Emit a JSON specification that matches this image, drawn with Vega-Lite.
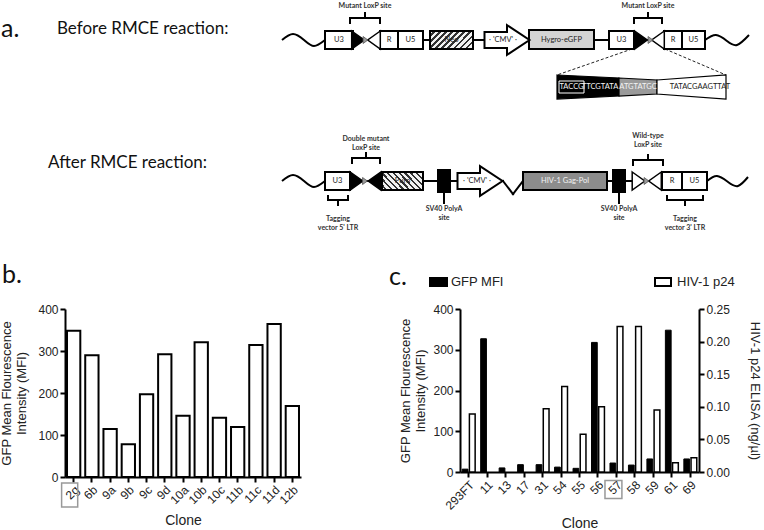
{
  "$schema": "https://vega.github.io/schema/vega-lite/v6.json",
  "background": "white",
  "padding": 0,
  "columns": 1,
  "align": "none",
  "spacing": 7,
  "config": {
    "view": {"stroke": null},
    "axis": {"domainColor": "black", "domainWidth": 2, "tickColor": "black", "tickWidth": 2, "tickSize": 5, "labelColor": "#222", "labelFont": "Liberation Sans", "labelFontSize": 12, "titleFont": "Liberation Sans", "titleFontWeight": "normal", "titleColor": "#222", "grid": false, "labelPadding": 2}
  },
  "datasets": {
    "segs": [
      {"x": 325, "y": 40, "x2": 705, "y2": 40},
      {"x": 325, "y": 181, "x2": 503, "y2": 181},
      {"x": 523, "y": 181, "x2": 707, "y2": 181},
      {"x": 503, "y": 181, "x2": 513, "y2": 194},
      {"x": 513, "y": 194, "x2": 523, "y2": 181},
      {"x": 350, "y": 18, "x2": 380, "y2": 18},
      {"x": 350, "y": 18, "x2": 350, "y2": 23},
      {"x": 380, "y": 18, "x2": 380, "y2": 23},
      {"x": 365, "y": 18, "x2": 365, "y2": 13},
      {"x": 634, "y": 18, "x2": 662, "y2": 18},
      {"x": 634, "y": 18, "x2": 634, "y2": 23},
      {"x": 662, "y": 18, "x2": 662, "y2": 23},
      {"x": 648, "y": 18, "x2": 648, "y2": 13},
      {"x": 352, "y": 158, "x2": 380, "y2": 158},
      {"x": 352, "y": 158, "x2": 352, "y2": 163},
      {"x": 380, "y": 158, "x2": 380, "y2": 163},
      {"x": 366, "y": 158, "x2": 366, "y2": 153},
      {"x": 633, "y": 160, "x2": 663, "y2": 160},
      {"x": 633, "y": 160, "x2": 633, "y2": 165},
      {"x": 663, "y": 160, "x2": 663, "y2": 165},
      {"x": 648, "y": 160, "x2": 648, "y2": 155},
      {"x": 328, "y": 200, "x2": 348, "y2": 200},
      {"x": 328, "y": 200, "x2": 328, "y2": 196},
      {"x": 348, "y": 200, "x2": 348, "y2": 196},
      {"x": 338, "y": 200, "x2": 338, "y2": 205},
      {"x": 667, "y": 200, "x2": 703, "y2": 200},
      {"x": 667, "y": 200, "x2": 667, "y2": 196},
      {"x": 703, "y": 200, "x2": 703, "y2": 196},
      {"x": 685, "y": 200, "x2": 685, "y2": 205},
      {"x": 444, "y": 190, "x2": 444, "y2": 203},
      {"x": 619, "y": 190, "x2": 619, "y2": 203}
    ],
    "dash": [
      {"x": 632, "y": 49, "x2": 557, "y2": 75},
      {"x": 665, "y": 49, "x2": 726, "y2": 75}
    ],
    "waves": [
      {"w": 1, "x": 282, "y": 40}, {"w": 1, "x": 293, "y": 34}, {"w": 1, "x": 304, "y": 40}, {"w": 1, "x": 314, "y": 46}, {"w": 1, "x": 325, "y": 40},
      {"w": 2, "x": 705, "y": 40}, {"w": 2, "x": 716, "y": 35}, {"w": 2, "x": 727, "y": 41}, {"w": 2, "x": 737, "y": 45}, {"w": 2, "x": 749, "y": 35},
      {"w": 3, "x": 282, "y": 181}, {"w": 3, "x": 293, "y": 175}, {"w": 3, "x": 304, "y": 181}, {"w": 3, "x": 314, "y": 187}, {"w": 3, "x": 325, "y": 181},
      {"w": 4, "x": 707, "y": 181}, {"w": 4, "x": 717, "y": 176}, {"w": 4, "x": 728, "y": 182}, {"w": 4, "x": 738, "y": 186}, {"w": 4, "x": 748, "y": 177}
    ],
    "boxes": [
      {"kind": "white", "x": 325, "x2": 353, "y": 31, "y2": 49},
      {"kind": "white", "x": 380, "x2": 398, "y": 31, "y2": 49},
      {"kind": "white", "x": 398, "x2": 423, "y": 31, "y2": 49},
      {"kind": "light", "x": 529, "x2": 594, "y": 30, "y2": 49},
      {"kind": "white", "x": 609, "x2": 634, "y": 31, "y2": 49},
      {"kind": "white", "x": 664, "x2": 682, "y": 31, "y2": 49},
      {"kind": "white", "x": 682, "x2": 705, "y": 31, "y2": 49},
      {"kind": "white", "x": 325, "x2": 350, "y": 172, "y2": 190},
      {"kind": "black", "x": 438, "x2": 450, "y": 170, "y2": 192},
      {"kind": "dark", "x": 523, "x2": 607, "y": 172, "y2": 190},
      {"kind": "black", "x": 613, "x2": 625, "y": 170, "y2": 192},
      {"kind": "white", "x": 662, "x2": 682, "y": 172, "y2": 190},
      {"kind": "white", "x": 682, "x2": 707, "y": 172, "y2": 190},
      {"kind": "black", "x": 430, "x2": 447, "y": 278, "y2": 286},
      {"kind": "white", "x": 655, "x2": 671, "y": 278, "y2": 286}
    ],
    "hatch": [
      {"dir": "up", "x": 430, "x2": 473, "y": 31, "y2": 49},
      {"dir": "down", "x": 382, "x2": 423, "y": 172, "y2": 190}
    ],
    "seq": [
      {"part": "black", "x": 557, "y": 75, "y2": 99}, {"part": "black", "x": 619, "y": 78, "y2": 96},
      {"part": "gray", "x": 619, "y": 78, "y2": 96}, {"part": "gray", "x": 657, "y": 80, "y2": 94},
      {"part": "white", "x": 657, "y": 80, "y2": 94}, {"part": "white", "x": 726, "y": 75, "y2": 99}
    ],
    "outline": [{"x": 559, "x2": 584, "y": 81, "y2": 93}],
    "tris": [
      {"dir": "right", "kind": "black", "x": 358, "y": 40},
      {"dir": "right", "kind": "black", "x": 641, "y": 40},
      {"dir": "right", "kind": "black", "x": 356.5, "y": 181},
      {"dir": "right", "kind": "white", "x": 638.5, "y": 181},
      {"dir": "left", "kind": "white", "x": 374, "y": 40},
      {"dir": "left", "kind": "white", "x": 658, "y": 40},
      {"dir": "left", "kind": "black", "x": 374.5, "y": 181},
      {"dir": "left", "kind": "white", "x": 655, "y": 181},
      {"dir": "small", "kind": "gray", "x": 365.5, "y": 40},
      {"dir": "small", "kind": "gray", "x": 650.5, "y": 40},
      {"dir": "small", "kind": "gray", "x": 365, "y": 181},
      {"dir": "small", "kind": "gray", "x": 646.5, "y": 181}
    ],
    "arrows": [{"x": 507, "y": 40}, {"x": 480, "y": 181}],
    "texts": [
      {"role": "heading", "label": "Before RMCE reaction:", "x": 57, "y": 29},
      {"role": "heading", "label": "After RMCE reaction:", "x": 48, "y": 163},
      {"role": "letter", "label": "a.", "x": 1, "y": 37},
      {"role": "letter", "label": "b.", "x": 2, "y": 283},
      {"role": "letter", "label": "c.", "x": 389, "y": 285},
      {"role": "small", "label": "Mutant LoxP site", "x": 365, "y": 6},
      {"role": "small", "label": "Mutant LoxP site", "x": 648, "y": 6},
      {"role": "small", "label": "Double mutant", "x": 366, "y": 139},
      {"role": "small", "label": "LoxP site", "x": 366, "y": 148},
      {"role": "small", "label": "Wild-type", "x": 648, "y": 136},
      {"role": "small", "label": "LoxP site", "x": 648, "y": 145},
      {"role": "small", "label": "SV40 PolyA", "x": 444, "y": 209},
      {"role": "small", "label": "site", "x": 444, "y": 218},
      {"role": "small", "label": "SV40 PolyA", "x": 619, "y": 209},
      {"role": "small", "label": "site", "x": 619, "y": 218},
      {"role": "small", "label": "Tagging", "x": 338, "y": 219},
      {"role": "small", "label": "vector 5' LTR", "x": 338, "y": 228},
      {"role": "small", "label": "Tagging", "x": 685, "y": 219},
      {"role": "small", "label": "vector 3' LTR", "x": 685, "y": 228},
      {"role": "box", "label": "U3", "x": 339, "y": 40},
      {"role": "box", "label": "R", "x": 389, "y": 40},
      {"role": "box", "label": "U5", "x": 410.5, "y": 40},
      {"role": "box", "label": "Neo", "x": 451.5, "y": 40},
      {"role": "box", "label": "· 'CMV' ·", "x": 503, "y": 40},
      {"role": "box", "label": "Hygro-eGFP", "x": 561.5, "y": 40},
      {"role": "box", "label": "U3", "x": 621.5, "y": 40},
      {"role": "box", "label": "R", "x": 673, "y": 40},
      {"role": "box", "label": "U5", "x": 693.5, "y": 40},
      {"role": "box", "label": "U3", "x": 337.5, "y": 181},
      {"role": "box", "label": "Puro", "x": 402.5, "y": 181},
      {"role": "box", "label": "· 'CMV' ·", "x": 477, "y": 181},
      {"role": "box", "label": "R", "x": 672, "y": 181},
      {"role": "box", "label": "U5", "x": 694.5, "y": 181},
      {"role": "box", "label": "TATACGAAGTTAT", "x": 700, "y": 87},
      {"role": "white", "label": "HIV-1 Gag-Pol", "x": 565, "y": 181},
      {"role": "white", "label": "TACCG", "x": 571.5, "y": 87},
      {"role": "white", "label": "TTCGTATA", "x": 600, "y": 87},
      {"role": "white", "label": "ATGTATGC", "x": 638, "y": 87},
      {"role": "legend", "label": "GFP MFI", "x": 451, "y": 282},
      {"role": "legend", "label": "HIV-1 p24", "x": 677, "y": 282}
    ],
    "mfi": [
      {"clone": "2g", "mfi": 348}, {"clone": "6b", "mfi": 290}, {"clone": "9a", "mfi": 114}, {"clone": "9b", "mfi": 78},
      {"clone": "9c", "mfi": 197}, {"clone": "9d", "mfi": 292}, {"clone": "10a", "mfi": 146}, {"clone": "10b", "mfi": 321},
      {"clone": "10c", "mfi": 141}, {"clone": "11b", "mfi": 119}, {"clone": "11c", "mfi": 314}, {"clone": "11d", "mfi": 364},
      {"clone": "12b", "mfi": 169}
    ],
    "p24": [
      {"clone": "293FT", "series": "GFP MFI", "value": 7}, {"clone": "293FT", "series": "HIV-1 p24", "value": 0.089},
      {"clone": "11", "series": "GFP MFI", "value": 327},
      {"clone": "13", "series": "GFP MFI", "value": 10},
      {"clone": "17", "series": "GFP MFI", "value": 18},
      {"clone": "31", "series": "GFP MFI", "value": 18}, {"clone": "31", "series": "HIV-1 p24", "value": 0.097},
      {"clone": "54", "series": "GFP MFI", "value": 12}, {"clone": "54", "series": "HIV-1 p24", "value": 0.131},
      {"clone": "55", "series": "GFP MFI", "value": 9}, {"clone": "55", "series": "HIV-1 p24", "value": 0.058},
      {"clone": "56", "series": "GFP MFI", "value": 318}, {"clone": "56", "series": "HIV-1 p24", "value": 0.1},
      {"clone": "57", "series": "GFP MFI", "value": 22}, {"clone": "57", "series": "HIV-1 p24", "value": 0.223},
      {"clone": "58", "series": "GFP MFI", "value": 17}, {"clone": "58", "series": "HIV-1 p24", "value": 0.223},
      {"clone": "59", "series": "GFP MFI", "value": 32}, {"clone": "59", "series": "HIV-1 p24", "value": 0.095},
      {"clone": "61", "series": "GFP MFI", "value": 348}, {"clone": "61", "series": "HIV-1 p24", "value": 0.014},
      {"clone": "69", "series": "GFP MFI", "value": 32}, {"clone": "69", "series": "HIV-1 p24", "value": 0.022}
    ]
  },
  "concat": [
    {
      "width": 699,
      "height": 296,
      "encoding": {
        "x": {"field": "x", "type": "quantitative", "scale": {"domain": [65, 764], "nice": false, "zero": false}, "axis": null},
        "y": {"field": "y", "type": "quantitative", "scale": {"domain": [0, 296], "nice": false, "zero": false, "reverse": true}, "axis": null}
      },
      "layer": [
        {
          "data": {"name": "segs"},
          "mark": {"type": "rule", "color": "black", "strokeWidth": 2, "strokeCap": "square"},
          "encoding": {"x2": {"field": "x2"}, "y2": {"field": "y2"}}
        },
        {
          "data": {"name": "dash"},
          "mark": {"type": "rule", "color": "#222", "strokeWidth": 1, "strokeDash": [3, 2]},
          "encoding": {"x2": {"field": "x2"}, "y2": {"field": "y2"}}
        },
        {
          "data": {"name": "waves"},
          "mark": {"type": "line", "color": "black", "strokeWidth": 2, "interpolate": "natural"},
          "encoding": {"detail": {"field": "w", "type": "nominal"}}
        },
        {
          "data": {"name": "boxes"},
          "mark": {"type": "rect", "stroke": "black", "strokeWidth": 2},
          "encoding": {
            "x2": {"field": "x2"}, "y2": {"field": "y2"},
            "color": {"field": "kind", "type": "nominal", "legend": null, "scale": {"domain": ["white", "light", "dark", "black", "gray"], "range": ["#ffffff", "#d4d4d4", "#8c8c8c", "#000000", "#9a9a9a"]}}
          }
        },
        {
          "data": {"name": "hatch"},
          "transform": [{"filter": "datum.dir === 'up'"}],
          "mark": {"type": "rect", "stroke": "black", "strokeWidth": 2,
            "fill": {"gradient": "linear", "x1": 0, "y1": 0, "x2": 1.2, "y2": 0.5, "stops": [
              {"offset": 0, "color": "#f2f2f2"}, {"offset": 0.06, "color": "#f2f2f2"}, {"offset": 0.06, "color": "#333"}, {"offset": 0.1, "color": "#333"},
              {"offset": 0.1, "color": "#f2f2f2"}, {"offset": 0.16, "color": "#f2f2f2"}, {"offset": 0.16, "color": "#333"}, {"offset": 0.2, "color": "#333"},
              {"offset": 0.2, "color": "#f2f2f2"}, {"offset": 0.26, "color": "#f2f2f2"}, {"offset": 0.26, "color": "#333"}, {"offset": 0.3, "color": "#333"},
              {"offset": 0.3, "color": "#f2f2f2"}, {"offset": 0.36, "color": "#f2f2f2"}, {"offset": 0.36, "color": "#333"}, {"offset": 0.4, "color": "#333"},
              {"offset": 0.4, "color": "#f2f2f2"}, {"offset": 0.46, "color": "#f2f2f2"}, {"offset": 0.46, "color": "#333"}, {"offset": 0.5, "color": "#333"},
              {"offset": 0.5, "color": "#f2f2f2"}, {"offset": 0.56, "color": "#f2f2f2"}, {"offset": 0.56, "color": "#333"}, {"offset": 0.6, "color": "#333"},
              {"offset": 0.6, "color": "#f2f2f2"}, {"offset": 0.66, "color": "#f2f2f2"}, {"offset": 0.66, "color": "#333"}, {"offset": 0.7, "color": "#333"},
              {"offset": 0.7, "color": "#f2f2f2"}, {"offset": 0.76, "color": "#f2f2f2"}, {"offset": 0.76, "color": "#333"}, {"offset": 0.8, "color": "#333"},
              {"offset": 0.8, "color": "#f2f2f2"}, {"offset": 0.86, "color": "#f2f2f2"}, {"offset": 0.86, "color": "#333"}, {"offset": 0.9, "color": "#333"},
              {"offset": 0.9, "color": "#f2f2f2"}, {"offset": 0.96, "color": "#f2f2f2"}, {"offset": 0.96, "color": "#333"}, {"offset": 1, "color": "#333"}
            ]}},
          "encoding": {"x2": {"field": "x2"}, "y2": {"field": "y2"}}
        },
        {
          "data": {"name": "hatch"},
          "transform": [{"filter": "datum.dir === 'down'"}],
          "mark": {"type": "rect", "stroke": "black", "strokeWidth": 2,
            "fill": {"gradient": "linear", "x1": 0, "y1": 1, "x2": 1.2, "y2": 0.5, "stops": [
              {"offset": 0, "color": "#f2f2f2"}, {"offset": 0.06, "color": "#f2f2f2"}, {"offset": 0.06, "color": "#333"}, {"offset": 0.1, "color": "#333"},
              {"offset": 0.1, "color": "#f2f2f2"}, {"offset": 0.16, "color": "#f2f2f2"}, {"offset": 0.16, "color": "#333"}, {"offset": 0.2, "color": "#333"},
              {"offset": 0.2, "color": "#f2f2f2"}, {"offset": 0.26, "color": "#f2f2f2"}, {"offset": 0.26, "color": "#333"}, {"offset": 0.3, "color": "#333"},
              {"offset": 0.3, "color": "#f2f2f2"}, {"offset": 0.36, "color": "#f2f2f2"}, {"offset": 0.36, "color": "#333"}, {"offset": 0.4, "color": "#333"},
              {"offset": 0.4, "color": "#f2f2f2"}, {"offset": 0.46, "color": "#f2f2f2"}, {"offset": 0.46, "color": "#333"}, {"offset": 0.5, "color": "#333"},
              {"offset": 0.5, "color": "#f2f2f2"}, {"offset": 0.56, "color": "#f2f2f2"}, {"offset": 0.56, "color": "#333"}, {"offset": 0.6, "color": "#333"},
              {"offset": 0.6, "color": "#f2f2f2"}, {"offset": 0.66, "color": "#f2f2f2"}, {"offset": 0.66, "color": "#333"}, {"offset": 0.7, "color": "#333"},
              {"offset": 0.7, "color": "#f2f2f2"}, {"offset": 0.76, "color": "#f2f2f2"}, {"offset": 0.76, "color": "#333"}, {"offset": 0.8, "color": "#333"},
              {"offset": 0.8, "color": "#f2f2f2"}, {"offset": 0.86, "color": "#f2f2f2"}, {"offset": 0.86, "color": "#333"}, {"offset": 0.9, "color": "#333"},
              {"offset": 0.9, "color": "#f2f2f2"}, {"offset": 0.96, "color": "#f2f2f2"}, {"offset": 0.96, "color": "#333"}, {"offset": 1, "color": "#333"}
            ]}},
          "encoding": {"x2": {"field": "x2"}, "y2": {"field": "y2"}}
        },
        {
          "data": {"name": "seq"},
          "mark": {"type": "area", "stroke": "black", "strokeWidth": 1.2},
          "encoding": {
            "y2": {"field": "y2"},
            "color": {"field": "part", "type": "nominal", "legend": null, "scale": {"domain": ["white", "light", "dark", "black", "gray"], "range": ["#ffffff", "#d4d4d4", "#8c8c8c", "#000000", "#9a9a9a"]}}
          }
        },
        {
          "data": {"name": "outline"},
          "mark": {"type": "rect", "fill": null, "fillOpacity": 0, "stroke": "white", "strokeWidth": 1},
          "encoding": {"x2": {"field": "x2"}, "y2": {"field": "y2"}}
        },
        {
          "data": {"name": "tris"},
          "transform": [{"filter": "datum.dir === 'right'"}],
          "mark": {"type": "point", "filled": true, "shape": "M-0.7,-1L0.7,0L-0.7,1Z", "size": 324, "stroke": "black", "strokeWidth": 1.5, "opacity": 1},
          "encoding": {"color": {"field": "kind", "type": "nominal", "legend": null, "scale": {"domain": ["white", "light", "dark", "black", "gray"], "range": ["#ffffff", "#d4d4d4", "#8c8c8c", "#000000", "#9a9a9a"]}}}
        },
        {
          "data": {"name": "tris"},
          "transform": [{"filter": "datum.dir === 'left'"}],
          "mark": {"type": "point", "filled": true, "shape": "M0.7,-1L-0.7,0L0.7,1Z", "size": 324, "stroke": "black", "strokeWidth": 1.5, "opacity": 1},
          "encoding": {"color": {"field": "kind", "type": "nominal", "legend": null, "scale": {"domain": ["white", "light", "dark", "black", "gray"], "range": ["#ffffff", "#d4d4d4", "#8c8c8c", "#000000", "#9a9a9a"]}}}
        },
        {
          "data": {"name": "tris"},
          "transform": [{"filter": "datum.dir === 'small'"}],
          "mark": {"type": "point", "filled": true, "shape": "M-0.7,-1L0.7,0L-0.7,1Z", "size": 49, "fill": "#999", "stroke": "#555", "strokeWidth": 0.8, "opacity": 1}
        },
        {
          "data": {"name": "arrows"},
          "mark": {"type": "point", "filled": true, "fill": "white", "shape": "M-1,-0.36L0,-0.36L0,-0.66L1,0L0,0.66L0,0.36L-1,0.36Z", "size": 2025, "stroke": "black", "strokeWidth": 2, "opacity": 1}
        },
        {
          "data": {"name": "texts"},
          "transform": [{"filter": "datum.role === 'heading'"}],
          "mark": {"type": "text", "font": "Lato", "fontSize": 17, "align": "left", "baseline": "middle", "color": "#111"},
          "encoding": {"text": {"field": "label"}}
        },
        {
          "data": {"name": "texts"},
          "transform": [{"filter": "datum.role === 'letter'"}],
          "mark": {"type": "text", "font": "Lato", "fontSize": 25, "align": "left", "baseline": "alphabetic", "color": "#111"},
          "encoding": {"text": {"field": "label"}}
        },
        {
          "data": {"name": "texts"},
          "transform": [{"filter": "datum.role === 'small'"}],
          "mark": {"type": "text", "font": "Lato", "fontSize": 7, "fontWeight": "bold", "align": "center", "baseline": "middle", "color": "#333"},
          "encoding": {"text": {"field": "label"}}
        },
        {
          "data": {"name": "texts"},
          "transform": [{"filter": "datum.role === 'box'"}],
          "mark": {"type": "text", "font": "Lato", "fontSize": 7.5, "align": "center", "baseline": "middle", "color": "#222"},
          "encoding": {"text": {"field": "label"}}
        },
        {
          "data": {"name": "texts"},
          "transform": [{"filter": "datum.role === 'white'"}],
          "mark": {"type": "text", "font": "Lato", "fontSize": 7.5, "align": "center", "baseline": "middle", "color": "#f4f4f4"},
          "encoding": {"text": {"field": "label"}}
        },
        {
          "data": {"name": "texts"},
          "transform": [{"filter": "datum.role === 'legend'"}],
          "mark": {"type": "text", "font": "Liberation Sans", "fontSize": 13, "align": "left", "baseline": "middle", "color": "#222"},
          "encoding": {"text": {"field": "label"}}
        }
      ]
    },
    {
      "spacing": 98,
      "hconcat": [
        {
          "width": 236,
          "height": 168,
          "data": {"name": "mfi"},
          "layer": [
            {
              "mark": {"type": "bar", "fill": "white", "stroke": "black", "strokeWidth": 2},
              "encoding": {
                "x": {"field": "clone", "type": "nominal", "sort": null, "scale": {"paddingInner": 0.27, "paddingOuter": 0.11},
                  "axis": {"title": "Clone", "titleFontSize": 14, "labelAngle": -45, "titlePadding": 8}},
                "y": {"field": "mfi", "type": "quantitative", "scale": {"domain": [0, 400], "nice": false},
                  "axis": {"title": ["GFP Mean Flourescence", "Intensity (MFI)"], "titleFontSize": 13, "titleLineHeight": 15, "values": [0, 100, 200, 300, 400], "titlePadding": 9}}
              }
            },
            {
              "transform": [{"filter": "datum.clone === '2g'"}],
              "mark": {"type": "point", "shape": "M-0.67,-1H0.67V1H-0.67Z", "size": 576, "filled": false, "stroke": "#999", "strokeWidth": 1.5, "xOffset": -4, "opacity": 1},
              "encoding": {
                "x": {"field": "clone", "type": "nominal", "sort": null,
                  "axis": {"title": "Clone", "titleFontSize": 14, "labelAngle": -45, "titlePadding": 8}},
                "y": {"datum": -43, "type": "quantitative",
                  "axis": {"title": ["GFP Mean Flourescence", "Intensity (MFI)"], "titleFontSize": 13, "titleLineHeight": 15, "values": [0, 100, 200, 300, 400], "titlePadding": 9}}
              }
            }
          ]
        },
        {
          "width": 239,
          "height": 163,
          "data": {"name": "p24"},
          "layer": [
            {
              "layer": [
                {
                  "transform": [{"filter": "datum.series === 'GFP MFI'"}],
                  "mark": {"type": "bar", "fill": "black", "stroke": "black", "strokeWidth": 1},
                  "encoding": {
                    "x": {"field": "clone", "type": "nominal", "sort": ["293FT", "11", "13", "17", "31", "54", "55", "56", "57", "58", "59", "61", "69"], "scale": {"paddingInner": 0.3, "paddingOuter": 0.12},
                      "axis": {"title": "Clone", "titleFontSize": 14, "labelAngle": -45, "titlePadding": 5}},
                    "xOffset": {"field": "series", "type": "nominal", "scale": {"domain": ["GFP MFI", "HIV-1 p24"], "paddingInner": 0.2}},
                    "y": {"field": "value", "type": "quantitative", "scale": {"domain": [0, 400], "nice": false},
                      "axis": {"title": ["GFP Mean Flourescence", "Intensity (MFI)"], "titleFontSize": 13, "titleLineHeight": 15, "values": [0, 100, 200, 300, 400], "titlePadding": 5}}
                  }
                },
                {
                  "transform": [{"filter": "datum.clone === '57' && datum.series === 'GFP MFI'"}],
                  "mark": {"type": "point", "shape": "M-0.94,-1H0.94V1H-0.94Z", "size": 324, "filled": false, "stroke": "#999", "strokeWidth": 1.5, "xOffset": -3, "opacity": 1},
                  "encoding": {
                    "x": {"field": "clone", "type": "nominal", "sort": ["293FT", "11", "13", "17", "31", "54", "55", "56", "57", "58", "59", "61", "69"],
                      "axis": {"title": "Clone", "titleFontSize": 14, "labelAngle": -45, "titlePadding": 5}},
                    "y": {"datum": -43, "type": "quantitative",
                      "axis": {"title": ["GFP Mean Flourescence", "Intensity (MFI)"], "titleFontSize": 13, "titleLineHeight": 15, "values": [0, 100, 200, 300, 400], "titlePadding": 5}}
                  }
                }
              ]
            },
            {
              "transform": [{"filter": "datum.series === 'HIV-1 p24'"}],
              "mark": {"type": "bar", "fill": "white", "stroke": "black", "strokeWidth": 1.5},
              "encoding": {
                "x": {"field": "clone", "type": "nominal", "sort": ["293FT", "11", "13", "17", "31", "54", "55", "56", "57", "58", "59", "61", "69"],
                  "axis": {"title": "Clone", "titleFontSize": 14, "labelAngle": -45, "titlePadding": 5}},
                "xOffset": {"field": "series", "type": "nominal", "scale": {"domain": ["GFP MFI", "HIV-1 p24"], "paddingInner": 0.2}},
                "y": {"field": "value", "type": "quantitative", "scale": {"domain": [0, 0.25], "nice": false},
                  "axis": {"orient": "right", "title": "HIV-1 p24 ELISA (ng/µl)", "titleFontSize": 13, "values": [0, 0.05, 0.1, 0.15, 0.2, 0.25], "format": ".2f", "titlePadding": 18}}
              }
            }
          ],
          "resolve": {"scale": {"y": "independent"}}
        }
      ]
    }
  ]
}
